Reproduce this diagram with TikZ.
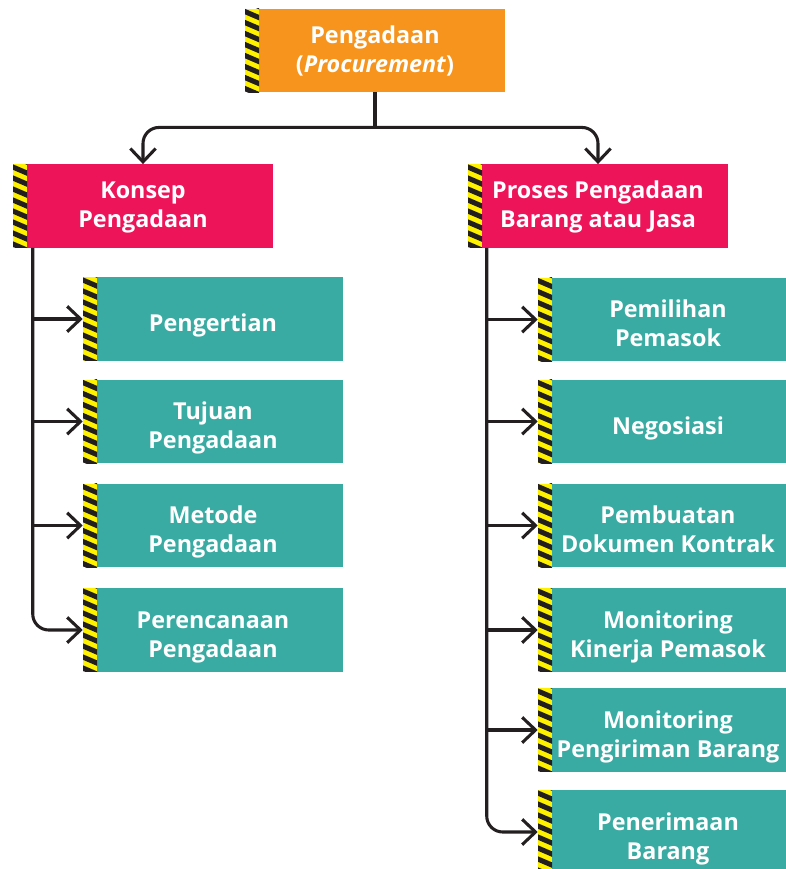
\documentclass[tikz,border=0pt]{standalone}
\usepackage{fontspec}
\setmainfont{Open Sans}
\usetikzlibrary{calc}
\usetikzlibrary{arrows.meta}

\definecolor{orangebox}{HTML}{F7941D}
\definecolor{pinkbox}{HTML}{ED145A}
\definecolor{tealbox}{HTML}{3AABA3}
\definecolor{hzyellow}{HTML}{FFF200}
\definecolor{hzblack}{HTML}{231F20}

% centred lines with struts, first line on the baseline
\newcommand{\boxtext}[1]{\begin{tabular}[t]{@{}c@{}}#1\end{tabular}}

\tikzset{
  box/.style={rectangle, minimum width=195pt, minimum height=62.5pt, inner sep=0pt,
    text=white, font=\bfseries\fontsize{17.5}{21.75}\selectfont, text height=17.5pt, hazard},
  subbox/.style={box, fill=tealbox, text height=25.5pt},
  hazard/.style={path picture={
    \fill[hzyellow] (path picture bounding box.north west) rectangle ($(path picture bounding box.south west)+(14,0)$);
    \clip (path picture bounding box.north west) rectangle ($(path picture bounding box.south west)+(14,0)$);
    \foreach \k in {-2,...,9}
      \fill[hzblack] ($(path picture bounding box.north west)+(0,\k*11)$) -- ++(14,6) -- ++(0,5.5) -- ++(-14,-6) -- cycle;
  }},
  conn/.style={draw=hzblack, line width=2.3pt, -{Straight Barb[length=10pt, width=19pt, line width=2.3pt]}},
}

\begin{document}
\begin{tikzpicture}[x=0.75pt, y=-0.75pt]
\useasboundingbox (0,0) rectangle (786,869);

% head
\node[box, fill=orangebox] (top) at (375,50.5) {\boxtext{Pengadaan\\(\textit{Procurement})}};

% two branches
\node[box, fill=pinkbox] (konsep) at (143,206) {\boxtext{Konsep\\Pengadaan}};
\node[box, fill=pinkbox] (proses) at (598,206) {\boxtext{Proses Pengadaan\\Barang atau Jasa}};

\coordinate (split) at ($(top.south)+(0,35)$);
\draw[hzblack, line width=2.3pt] (top.south) -- (split);
\draw[conn, rounded corners=12pt] (split) -| (konsep.north);
\draw[conn, rounded corners=12pt] (split) -| (proses.north);

% left column
\node[subbox] (l1) at (213,319) {\boxtext{Pengertian}};
\node[subbox] (l2) at (213,421.5) {\boxtext{Tujuan\\Pengadaan}};
\node[subbox] (l3) at (213,525.5) {\boxtext{Metode\\Pengadaan}};
\node[subbox] (l4) at (213,630) {\boxtext{Perencanaan\\Pengadaan}};

\coordinate (lx) at ($(konsep.south west)+(20,0)$);
\draw[conn, rounded corners=12pt] (lx) |- (l4.west);
\foreach \c in {l1,l2,l3}
  \draw[conn] (lx |- \c.west) -- (\c.west);

% right column
\node[subbox] (r1) at (668,319.5) {\boxtext{Pemilihan\\Pemasok}};
\node[subbox] (r2) at (668,421.5) {\boxtext{Negosiasi}};
\node[subbox] (r3) at (668,525.5) {\boxtext{Pembuatan\\Dokumen Kontrak}};
\node[subbox] (r4) at (668,630) {\boxtext{Monitoring\\Kinerja Pemasok}};
\node[subbox] (r5) at (668,730) {\boxtext{Monitoring\\Pengiriman Barang}};
\node[subbox] (r6) at (668,832) {\boxtext{Penerimaan\\Barang}};

\coordinate (rx) at ($(proses.south west)+(19,0)$);
\draw[conn, rounded corners=12pt] (rx) |- (r6.west);
\foreach \c in {r1,r2,r3,r4,r5}
  \draw[conn] (rx |- \c.west) -- (\c.west);
\end{tikzpicture}
\end{document}
